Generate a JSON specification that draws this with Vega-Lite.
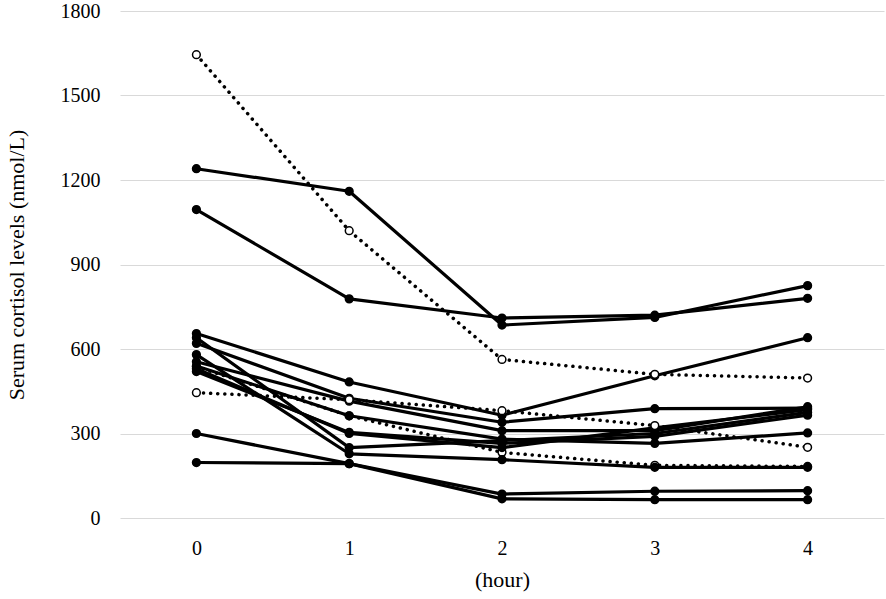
{
  "$schema": "https://vega.github.io/schema/vega-lite/v6.json",
  "autosize": "none",
  "width": 764,
  "height": 507,
  "padding": {"left": 120, "top": 11, "right": 2, "bottom": 81},
  "background": "white",
  "config": {
    "view": {"stroke": null},
    "font": "Liberation Serif"
  },
  "datasets": {
    "raw": [
      {"id": 0, "group": "B", "hour": 0, "value": 537}, {"id": 0, "group": "B", "hour": 1, "value": 363}, {"id": 0, "group": "B", "hour": 2, "value": 233}, {"id": 0, "group": "B", "hour": 3, "value": 187}, {"id": 0, "group": "B", "hour": 4, "value": 183},
      {"id": 1, "group": "A", "hour": 0, "value": 1240}, {"id": 1, "group": "A", "hour": 1, "value": 1160}, {"id": 1, "group": "A", "hour": 2, "value": 685}, {"id": 1, "group": "A", "hour": 3, "value": 712}, {"id": 1, "group": "A", "hour": 4, "value": 825},
      {"id": 2, "group": "A", "hour": 0, "value": 1095}, {"id": 2, "group": "A", "hour": 1, "value": 778}, {"id": 2, "group": "A", "hour": 2, "value": 710}, {"id": 2, "group": "A", "hour": 3, "value": 720}, {"id": 2, "group": "A", "hour": 4, "value": 780},
      {"id": 3, "group": "A", "hour": 0, "value": 655}, {"id": 3, "group": "A", "hour": 1, "value": 483}, {"id": 3, "group": "A", "hour": 2, "value": 365}, {"id": 3, "group": "A", "hour": 3, "value": 505}, {"id": 3, "group": "A", "hour": 4, "value": 640},
      {"id": 4, "group": "A", "hour": 0, "value": 620}, {"id": 4, "group": "A", "hour": 1, "value": 425}, {"id": 4, "group": "A", "hour": 2, "value": 340}, {"id": 4, "group": "A", "hour": 3, "value": 388}, {"id": 4, "group": "A", "hour": 4, "value": 390},
      {"id": 5, "group": "A", "hour": 0, "value": 640}, {"id": 5, "group": "A", "hour": 1, "value": 250}, {"id": 5, "group": "A", "hour": 2, "value": 275}, {"id": 5, "group": "A", "hour": 3, "value": 300}, {"id": 5, "group": "A", "hour": 4, "value": 375},
      {"id": 6, "group": "A", "hour": 0, "value": 580}, {"id": 6, "group": "A", "hour": 1, "value": 228}, {"id": 6, "group": "A", "hour": 2, "value": 207}, {"id": 6, "group": "A", "hour": 3, "value": 180}, {"id": 6, "group": "A", "hour": 4, "value": 180},
      {"id": 7, "group": "A", "hour": 0, "value": 555}, {"id": 7, "group": "A", "hour": 1, "value": 415}, {"id": 7, "group": "A", "hour": 2, "value": 310}, {"id": 7, "group": "A", "hour": 3, "value": 310}, {"id": 7, "group": "A", "hour": 4, "value": 395},
      {"id": 8, "group": "A", "hour": 0, "value": 540}, {"id": 8, "group": "A", "hour": 1, "value": 363}, {"id": 8, "group": "A", "hour": 2, "value": 280}, {"id": 8, "group": "A", "hour": 3, "value": 265}, {"id": 8, "group": "A", "hour": 4, "value": 302},
      {"id": 9, "group": "A", "hour": 0, "value": 520}, {"id": 9, "group": "A", "hour": 1, "value": 304}, {"id": 9, "group": "A", "hour": 2, "value": 265}, {"id": 9, "group": "A", "hour": 3, "value": 290}, {"id": 9, "group": "A", "hour": 4, "value": 365},
      {"id": 10, "group": "A", "hour": 0, "value": 530}, {"id": 10, "group": "A", "hour": 1, "value": 300}, {"id": 10, "group": "A", "hour": 2, "value": 250}, {"id": 10, "group": "A", "hour": 3, "value": 320}, {"id": 10, "group": "A", "hour": 4, "value": 385},
      {"id": 11, "group": "A", "hour": 0, "value": 300}, {"id": 11, "group": "A", "hour": 1, "value": 193}, {"id": 11, "group": "A", "hour": 2, "value": 85}, {"id": 11, "group": "A", "hour": 3, "value": 95}, {"id": 11, "group": "A", "hour": 4, "value": 97},
      {"id": 12, "group": "A", "hour": 0, "value": 197}, {"id": 12, "group": "A", "hour": 1, "value": 193}, {"id": 12, "group": "A", "hour": 2, "value": 68}, {"id": 12, "group": "A", "hour": 3, "value": 65}, {"id": 12, "group": "A", "hour": 4, "value": 65},
      {"id": 13, "group": "B", "hour": 0, "value": 1645}, {"id": 13, "group": "B", "hour": 1, "value": 1020}, {"id": 13, "group": "B", "hour": 2, "value": 563}, {"id": 13, "group": "B", "hour": 3, "value": 510}, {"id": 13, "group": "B", "hour": 4, "value": 497},
      {"id": 14, "group": "B", "hour": 0, "value": 445}, {"id": 14, "group": "B", "hour": 1, "value": 420}, {"id": 14, "group": "B", "hour": 2, "value": 381}, {"id": 14, "group": "B", "hour": 3, "value": 328}, {"id": 14, "group": "B", "hour": 4, "value": 251}
    ]
  },
  "data": {"name": "raw"},
  "encoding": {
    "x": {
      "field": "hour", "type": "quantitative",
      "scale": {"domain": [-0.5, 4.5], "nice": false, "zero": false},
      "axis": {
        "title": "(hour)", "values": [0, 1, 2, 3, 4], "format": "d", "grid": false, "domain": false, "ticks": false,
        "labelPadding": 20, "labelFontSize": 20, "labelColor": "black", "labelFont": "Liberation Serif",
        "titleFontSize": 22, "titleFontWeight": "normal", "titleColor": "black", "titleFont": "Liberation Serif", "titlePadding": 11
      }
    },
    "y": {
      "field": "value", "type": "quantitative",
      "scale": {"domain": [0, 1800], "nice": false},
      "axis": {
        "title": "Serum cortisol levels (nmol/L)", "values": [0, 300, 600, 900, 1200, 1500, 1800], "format": "d",
        "grid": true, "gridColor": "#d9d9d9", "gridWidth": 1, "domain": false, "ticks": false,
        "labelPadding": 20, "labelFontSize": 20, "labelColor": "black", "labelFont": "Liberation Serif",
        "titleFontSize": 22, "titleFontWeight": "normal", "titleColor": "black", "titleFont": "Liberation Serif", "titlePadding": 32
      }
    }
  },
  "layer": [
    {
      "transform": [{"filter": "datum.group === 'A'"}],
      "mark": {"type": "line", "color": "black", "strokeWidth": 3.2, "strokeCap": "round", "strokeJoin": "round"},
      "encoding": {"detail": {"field": "id", "type": "nominal"}, "order": {"field": "hour"}}
    },
    {
      "transform": [{"filter": "datum.group === 'B'"}],
      "mark": {"type": "line", "color": "black", "strokeWidth": 3.5, "strokeCap": "round", "strokeDash": [0.1, 7]},
      "encoding": {"detail": {"field": "id", "type": "nominal"}, "order": {"field": "hour"}}
    },
    {
      "mark": {"type": "point", "filled": true, "size": 60, "stroke": "black", "strokeWidth": 1.5, "opacity": 1},
      "encoding": {
        "fill": {"field": "group", "type": "nominal", "scale": {"domain": ["A", "B"], "range": ["black", "white"]}, "legend": null},
        "order": {"field": "id", "type": "quantitative"}
      }
    }
  ]
}
